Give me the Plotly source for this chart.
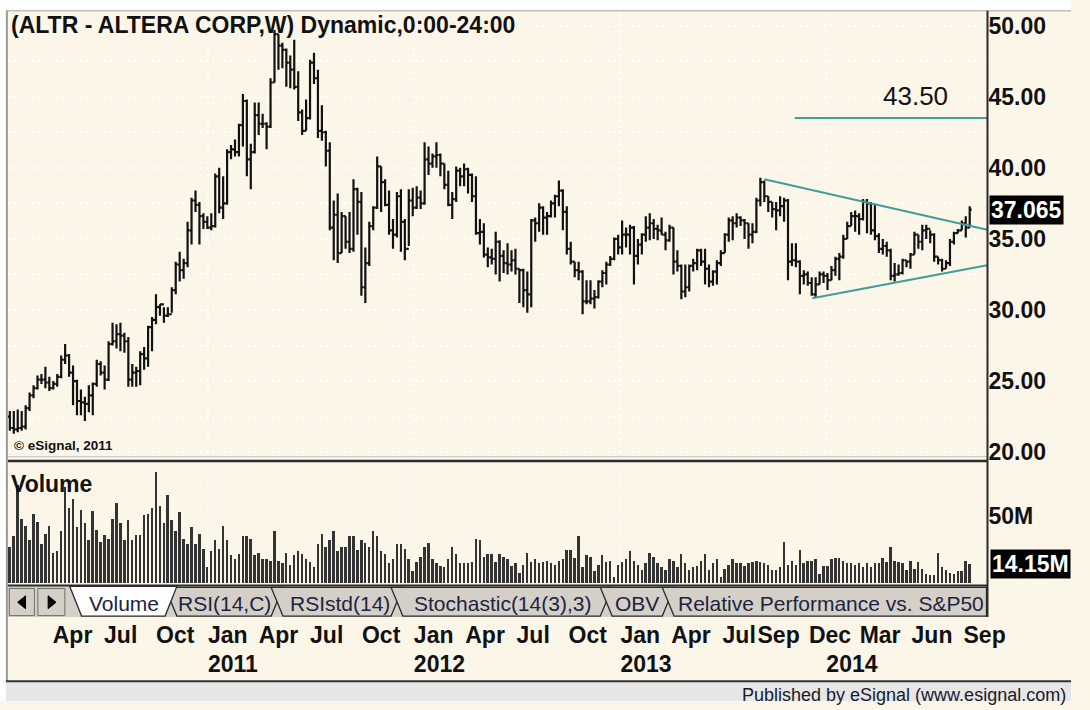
import plotly.graph_objects as go
import pandas as pd

FIG_W, FIG_H = 1090, 710
# the page keeps its default 8px body margin until the script runs, so the
# figure starts 16px smaller and is then fitted to the browser viewport width
START_W, START_H = FIG_W - 16, FIG_H - 16

# ------------------------------------------------------------------ data
first_week = "2010-01-15"
n_weeks = 244

week_open = [
    22.5, 21.7, 21.6, 21.7, 21.8, 23.1, 24.0, 24.5, 25.1, 25.1,
    24.9, 24.5, 24.8, 25.3, 26.5, 26.8, 25.6, 25.0, 23.6, 23.5,
    23.4, 24.0, 24.8, 26.2, 25.6, 25.1, 27.6, 27.8, 28.3, 28.2,
    27.8, 25.1, 25.6, 25.7, 26.9, 26.6, 28.8, 29.3, 30.2, 30.4,
    29.6, 29.7, 31.4, 33.2, 32.8, 33.3, 35.6, 37.7, 37.4, 36.6,
    36.2, 35.8, 35.9, 39.4, 37.2, 37.5, 41.1, 41.3, 41.1, 43.0,
    44.7, 40.6, 41.1, 43.7, 43.1, 43.1, 42.9, 46.0, 49.4, 48.6,
    48.3, 47.4, 46.9, 45.7, 43.9, 42.6, 43.5, 47.4, 46.3, 42.6,
    42.5, 41.2, 35.8, 36.7, 34.0, 36.6, 34.8, 34.3, 38.5, 37.6,
    31.6, 33.3, 35.9, 37.2, 40.1, 39.0, 37.4, 35.6, 35.3, 38.0,
    36.2, 34.3, 37.7, 37.2, 37.9, 37.5, 40.6, 40.3, 40.8, 40.9,
    40.3, 38.8, 37.4, 37.8, 39.8, 39.4, 39.9, 39.5, 38.0, 35.4,
    35.5, 33.9, 33.7, 33.6, 34.8, 33.8, 33.3, 33.2, 33.5, 32.9,
    32.8, 31.4, 31.1, 36.3, 36.1, 37.2, 36.5, 36.6, 37.5, 38.0,
    38.4, 36.9, 34.3, 33.4, 32.8, 32.7, 30.6, 30.6, 30.8, 30.9,
    32.0, 32.6, 33.2, 33.6, 35.0, 34.4, 35.3, 35.3, 35.8, 33.8,
    34.6, 35.3, 35.8, 36.1, 35.7, 35.6, 35.3, 34.9, 35.8, 33.4,
    33.1, 31.3, 31.6, 33.1, 33.3, 34.2, 33.4, 32.9, 32.0, 32.7,
    33.3, 34.0, 35.3, 36.3, 36.1, 36.5, 36.3, 36.1, 35.3, 35.5,
    37.7, 39.0, 38.0, 37.6, 37.1, 37.0, 37.3, 37.7, 33.4, 33.5,
    33.4, 32.4, 32.5, 31.9, 31.1, 31.8, 32.5, 32.4, 32.1, 32.8,
    33.6, 33.75, 35.0, 35.9, 36.6, 36.6, 36.4, 37.6, 37.5, 35.6,
    35.2, 34.3, 34.5, 34.2, 32.4, 32.5, 32.6, 33.5, 33.4, 33.9,
    35.3, 34.8, 35.6, 35.7, 35.3, 33.75, 33.5, 32.9, 33.3, 34.8,
    35.4, 35.6, 36.1, 35.8,
]
week_high = [
    22.9, 22.9, 23.0, 22.9, 23.3, 24.2, 24.7, 25.4, 25.5, 26.0,
    25.3, 25.0, 25.5, 26.8, 27.6, 26.9, 26.1, 25.1, 24.4, 23.9,
    24.7, 24.9, 26.5, 26.4, 26.1, 27.8, 29.1, 29.0, 29.1, 28.4,
    28.1, 26.2, 26.0, 27.1, 27.4, 28.9, 29.5, 31.1, 30.4, 30.2,
    30.2, 31.6, 33.4, 34.1, 33.6, 36.2, 37.9, 38.4, 37.6, 36.8,
    36.6, 36.8, 39.6, 40.0, 39.4, 41.3, 41.6, 42.0, 43.1, 45.2,
    44.8, 41.7, 44.6, 44.6, 43.8, 43.2, 46.3, 49.7, 49.4, 48.8,
    48.4, 47.9, 49.0, 46.8, 44.1, 44.8, 47.6, 48.1, 46.9, 44.4,
    42.6, 41.8, 37.7, 38.2, 36.9, 36.6, 36.9, 39.2, 38.6, 38.3,
    34.4, 36.2, 37.3, 40.8, 40.1, 39.2, 38.4, 36.4, 38.3, 38.5,
    36.4, 38.5, 38.6, 38.7, 38.4, 41.8, 41.5, 41.0, 41.8, 41.0,
    40.3, 39.8, 38.3, 40.1, 40.0, 40.3, 40.0, 39.6, 39.4, 36.4,
    36.1, 34.4, 34.3, 35.5, 34.9, 34.2, 34.7, 34.2, 34.3, 32.9,
    32.9, 32.7, 36.4, 36.5, 37.5, 37.3, 36.9, 37.7, 38.1, 39.1,
    38.5, 37.3, 34.8, 33.4, 33.4, 32.8, 32.1, 32.1, 31.4, 32.1,
    32.8, 33.4, 33.8, 35.1, 35.3, 36.3, 35.8, 36.0, 35.9, 35.0,
    35.4, 36.6, 36.8, 36.4, 36.0, 36.5, 35.5, 36.0, 35.8, 34.2,
    33.2, 33.2, 33.2, 33.6, 34.3, 34.3, 34.3, 33.2, 32.8, 33.5,
    34.2, 35.4, 36.5, 36.6, 36.8, 36.6, 36.4, 36.1, 36.1, 37.9,
    39.3, 39.1, 38.0, 37.6, 37.6, 38.0, 37.9, 37.8, 34.7, 34.7,
    33.5, 32.8, 32.7, 32.3, 32.3, 32.7, 32.7, 32.6, 33.1, 33.75,
    34.0, 35.3, 36.2, 36.9, 37.0, 36.8, 37.8, 37.8, 37.6, 37.4,
    35.4, 35.0, 34.8, 34.3, 33.3, 33.2, 33.6, 33.5, 34.0, 35.5,
    35.3, 36.0, 36.0, 35.6, 35.4, 33.75, 33.6, 33.5, 35.0, 35.5,
    35.7, 36.3, 36.6, 37.3,
]
week_low = [
    21.5, 21.3, 21.4, 21.5, 21.6, 22.9, 23.8, 24.4, 24.8, 24.5,
    24.3, 24.4, 24.6, 25.2, 26.2, 25.3, 23.3, 22.6, 22.6, 22.2,
    22.8, 22.6, 24.6, 25.4, 24.4, 25.0, 27.5, 27.3, 27.1, 27.0,
    24.6, 24.6, 24.6, 24.7, 25.8, 26.0, 27.1, 29.0, 29.6, 29.1,
    29.5, 29.8, 31.1, 32.0, 32.2, 33.0, 34.6, 36.9, 34.6, 35.7,
    35.7, 35.6, 35.8, 36.8, 36.4, 37.4, 40.6, 40.8, 40.8, 41.5,
    39.4, 38.5, 41.0, 42.3, 42.8, 41.3, 42.8, 46.0, 46.9, 47.0,
    45.7, 45.6, 45.5, 43.3, 42.3, 42.6, 43.4, 45.9, 42.1, 41.9,
    40.1, 35.6, 33.5, 33.3, 34.0, 34.3, 34.0, 34.1, 35.3, 31.0,
    30.5, 33.1, 35.6, 37.1, 36.9, 37.3, 35.3, 34.3, 35.1, 34.1,
    33.5, 34.5, 36.6, 37.1, 37.1, 37.4, 39.5, 40.0, 40.0, 39.4,
    38.5, 37.3, 36.4, 37.6, 38.7, 38.7, 38.2, 37.6, 35.3, 34.6,
    33.7, 33.0, 33.2, 32.5, 32.0, 32.6, 32.5, 32.7, 32.5, 30.5,
    30.2, 29.8, 30.2, 34.8, 35.5, 35.3, 35.3, 36.5, 36.5, 37.3,
    35.6, 33.9, 33.2, 32.3, 32.1, 29.7, 30.4, 30.4, 30.1, 30.8,
    31.6, 31.8, 33.1, 33.5, 33.9, 33.9, 34.4, 33.9, 31.8, 33.2,
    33.9, 34.8, 34.9, 35.0, 34.9, 35.3, 34.2, 34.8, 32.5, 32.7,
    30.75, 30.9, 31.3, 32.7, 32.8, 33.1, 31.8, 31.6, 31.7, 31.8,
    33.1, 34.0, 34.8, 34.9, 35.8, 35.9, 35.0, 34.3, 34.7, 35.4,
    37.3, 37.6, 36.9, 36.5, 35.6, 36.6, 36.2, 32.1, 33.1, 33.0,
    31.1, 31.8, 31.7, 31.0, 30.9, 31.8, 31.9, 31.4, 32.1, 32.4,
    32.1, 33.6, 35.0, 35.9, 35.5, 35.3, 36.3, 35.4, 35.3, 34.9,
    34.0, 33.9, 33.75, 32.1, 32.0, 32.4, 32.5, 33.0, 32.9, 33.9,
    34.3, 34.2, 35.0, 34.7, 33.4, 33.2, 32.7, 32.9, 33.1, 34.6,
    35.4, 35.6, 35.1, 35.8,
]
week_close = [
    21.7, 21.6, 21.7, 21.8, 23.1, 24.0, 24.5, 25.1, 25.1, 24.9,
    24.5, 24.8, 25.3, 26.5, 26.8, 25.6, 25.0, 23.6, 23.5, 23.4,
    24.0, 24.8, 26.2, 25.6, 25.1, 27.6, 27.8, 28.3, 28.2, 27.8,
    25.1, 25.6, 25.7, 26.9, 26.6, 28.8, 29.3, 30.2, 30.4, 29.6,
    29.7, 31.4, 33.2, 32.8, 33.3, 35.6, 37.7, 37.4, 36.6, 36.2,
    35.8, 35.9, 39.4, 37.2, 37.5, 41.1, 41.3, 41.1, 43.0, 44.7,
    40.6, 41.1, 43.7, 43.1, 43.1, 42.9, 46.0, 49.4, 48.6, 48.3,
    47.4, 46.9, 45.7, 43.9, 42.6, 43.5, 47.4, 46.3, 42.6, 42.5,
    41.2, 35.8, 36.7, 34.0, 36.6, 34.8, 34.3, 38.5, 37.6, 31.6,
    33.3, 35.9, 37.2, 40.1, 39.0, 37.4, 35.6, 35.3, 38.0, 36.2,
    34.3, 37.7, 37.2, 37.9, 37.5, 40.6, 40.3, 40.8, 40.9, 40.3,
    38.8, 37.4, 37.8, 39.8, 39.4, 39.9, 39.5, 38.0, 35.4, 35.5,
    33.9, 33.7, 33.6, 34.8, 33.8, 33.3, 33.2, 33.5, 32.9, 32.8,
    31.4, 31.1, 36.3, 36.1, 37.2, 36.5, 36.6, 37.5, 38.0, 38.4,
    36.9, 34.3, 33.4, 32.8, 32.7, 30.6, 30.6, 30.8, 30.9, 32.0,
    32.6, 33.2, 33.6, 35.0, 34.4, 35.3, 35.3, 35.8, 33.8, 34.6,
    35.3, 35.8, 36.1, 35.7, 35.6, 35.3, 34.9, 35.8, 33.4, 33.1,
    31.3, 31.6, 33.1, 33.3, 34.2, 33.4, 32.9, 32.0, 32.7, 33.3,
    34.0, 35.3, 36.3, 36.1, 36.5, 36.3, 36.1, 35.3, 35.5, 37.7,
    39.0, 38.0, 37.6, 37.1, 37.0, 37.3, 37.7, 33.4, 33.5, 33.4,
    32.4, 32.5, 31.9, 31.1, 31.8, 32.5, 32.4, 32.1, 32.8, 33.6,
    33.75, 35.0, 35.9, 36.6, 36.6, 36.4, 37.6, 37.5, 35.6, 35.2,
    34.3, 34.5, 34.2, 32.4, 32.5, 32.6, 33.5, 33.4, 33.9, 35.3,
    34.8, 35.6, 35.7, 35.3, 33.75, 33.5, 32.9, 33.3, 34.8, 35.4,
    35.6, 36.1, 35.8, 37.065,
]
week_volume_m = [
    27, 35, 73, 48, 43, 32, 52, 46, 29, 37,
    43, 23, 24, 39, 72, 56, 63, 42, 55, 45,
    32, 54, 40, 31, 36, 33, 48, 60, 45, 32,
    47, 32, 36, 36, 51, 52, 56, 83, 58, 45,
    66, 47, 39, 53, 33, 29, 42, 29, 37, 26,
    12, 24, 32, 26, 43, 32, 21, 18, 22, 35,
    35, 33, 21, 23, 18, 18, 17, 39, 17, 15,
    23, 14, 21, 24, 22, 18, 16, 12, 29, 37,
    27, 32, 39, 24, 27, 27, 35, 35, 25, 32,
    30, 27, 39, 35, 24, 22, 15, 18, 29, 29,
    26, 18, 9, 16, 20, 27, 30, 18, 15, 13,
    12, 18, 27, 22, 15, 15, 15, 16, 33, 32,
    20, 22, 22, 16, 22, 20, 18, 13, 15, 8,
    14, 23, 16, 18, 15, 16, 17, 15, 14, 17,
    18, 25, 25, 19, 35, 12, 21, 20, 9, 14,
    21, 16, 17, 5, 14, 16, 18, 24, 17, 14,
    10, 15, 23, 20, 15, 12, 10, 18, 17, 12,
    22, 15, 10, 12, 13, 17, 22, 10, 15, 18,
    5, 11, 14, 18, 15, 15, 13, 15, 16, 17,
    16, 15, 14, 10, 10, 12, 31, 14, 17, 14,
    25, 15, 17, 17, 18, 7, 13, 13, 18, 19,
    19, 17, 15, 15, 14, 15, 12, 15, 12, 15,
    15, 19, 16, 27, 17, 16, 15, 10, 17, 11,
    16, 11, 7, 6, 6, 23, 12, 10, 8, 7,
    9, 9, 17, 14.15,
]

last_price = 37.065
last_volume_m = 14.15
price_ticks = [20, 25, 30, 35, 40, 45, 50]
volume_ticks = [50]
volume_tick_text = ["50M"]
month_tick_dates = [
    "2010-04-01", "2010-07-01", "2010-10-01", "2011-01-01", "2011-04-01",
    "2011-07-01", "2011-10-01", "2012-01-01", "2012-04-01", "2012-07-01",
    "2012-10-01", "2013-01-01", "2013-04-01", "2013-07-01", "2013-09-01",
    "2013-12-01", "2014-01-01", "2014-03-01", "2014-06-01", "2014-09-01",
]
month_tick_text = [
    "Apr", "Jul", "Oct", "Jan<br>2011", "Apr",
    "Jul", "Oct", "Jan<br>2012", "Apr", "Jul",
    "Oct", "Jan<br>2013", "Apr", "Jul", "Sep",
    "Dec", " <br>2014", "Mar", "Jun", "Sep",
]
year_grid_dates = ["2011-01-01", "2012-01-01", "2013-01-01", "2014-01-01"]
x_range = ["2010-01-11 12:00", "2014-10-13 12:00"]
price_range = [19.72, 50.97]
volume_range = [0, 90.4]

resistance_level = 43.50
resistance_dates = ["2013-11-06", "2014-10-13"]
upper_trend_dates = ["2013-09-13", "2014-10-13"]
upper_trend_prices = [39.2, 35.65]
lower_trend_dates = ["2013-12-07", "2014-10-13"]
lower_trend_prices = [30.83, 33.15]

title_text = "(ALTR - ALTERA CORP,W) Dynamic,0:00-24:00"
tab_labels = ["Volume", "RSI(14,C)", "RSIstd(14)", "Stochastic(14(3),3)",
              "OBV", "Relative Performance vs. S&P50"]

# ------------------------------------------------------------------ styling
CREAM = "#FCF6E9"
INK = "#111111"
TEAL = "#3E9F9A"
TAB_GRAY = "#D4D0C8"
FONT = "Liberation Sans, Arial, sans-serif"
LABEL_STANDOFF = 35


def px_x(p):
    return p / FIG_W


def px_y(p):
    return 1 - p / FIG_H


weeks = pd.date_range(first_week, periods=n_weeks, freq="7D")

fig = go.Figure()

fig.add_trace(go.Ohlc(
    x=weeks, open=week_open, high=week_high, low=week_low, close=week_close,
    xaxis="x", yaxis="y",
    increasing=dict(line=dict(color=INK, width=2.2)),
    decreasing=dict(line=dict(color=INK, width=2.2)),
    tickwidth=0.5, showlegend=False, hoverinfo="skip",
))

fig.add_trace(go.Bar(
    x=weeks, y=week_volume_m, xaxis="x2", yaxis="y2",
    width=3.5 * 86400000, marker=dict(color="#333333", line=dict(width=0)),
    showlegend=False, hoverinfo="skip",
))

line_style = dict(color=TEAL, width=2)
fig.add_trace(go.Scatter(x=upper_trend_dates, y=upper_trend_prices, mode="lines",
                         line=line_style, xaxis="x", yaxis="y",
                         showlegend=False, hoverinfo="skip"))
fig.add_trace(go.Scatter(x=lower_trend_dates, y=lower_trend_prices, mode="lines",
                         line=line_style, xaxis="x", yaxis="y",
                         showlegend=False, hoverinfo="skip"))
fig.add_trace(go.Scatter(x=resistance_dates, y=[resistance_level] * 2, mode="lines",
                         line=line_style, xaxis="x", yaxis="y",
                         showlegend=False, hoverinfo="skip"))

tick_font = dict(family=FONT, size=23, color=INK, weight="bold")
dot = "2px,4px"

fig.update_layout(
    width=START_W, height=START_H, autosize=False,
    margin=dict(l=0, r=0, t=0, b=0, pad=0),
    paper_bgcolor=CREAM, plot_bgcolor=CREAM,
    showlegend=False, bargap=0,
    xaxis=dict(
        domain=[px_x(8), px_x(1005)], range=x_range, type="date", anchor="y",
        showticklabels=False, ticks="", tickmode="array", tickvals=year_grid_dates,
        showgrid=True, gridcolor="white", gridwidth=1.5, griddash=dot,
        zeroline=False, showline=False, rangeslider=dict(visible=False),
    ),
    yaxis=dict(
        domain=[px_y(462), px_y(12)], range=price_range, anchor="x", side="right",
        tickmode="array", tickvals=price_ticks,
        ticktext=[f"{v:.2f}" for v in price_ticks], tickfont=tick_font, ticks="",
        showgrid=True, gridcolor="white", gridwidth=1.5, griddash=dot,
        minor=dict(tickmode="linear", tick0=0, dtick=2.5, showgrid=True,
                   gridcolor="white", gridwidth=1.5, griddash=dot),
        zeroline=False, showline=False,
    ),
    xaxis2=dict(
        domain=[px_x(8), px_x(1005)], range=x_range, type="date", anchor="y2",
        tickmode="array", tickvals=month_tick_dates, ticktext=month_tick_text,
        ticklabelposition="outside right", ticklabelstandoff=LABEL_STANDOFF,
        tickangle=0, ticklabeloverflow="allow", tickfont=tick_font, ticks="",
        showgrid=False, zeroline=False, showline=False,
    ),
    yaxis2=dict(
        domain=[px_y(591), px_y(468)], range=volume_range, anchor="x2", side="right",
        tickmode="array", tickvals=volume_ticks, ticktext=volume_tick_text,
        tickfont=tick_font, ticks="", showgrid=False, zeroline=False, showline=False,
    ),
)

shapes = []


def rect(x0, y0, x1, y1, fill, line_color=None, lw=0):
    shapes.append(dict(type="rect", xref="paper", yref="paper",
                       x0=px_x(x0), x1=px_x(x1), y0=px_y(y0), y1=px_y(y1),
                       fillcolor=fill, line=dict(color=line_color or fill, width=lw),
                       layer="above"))


def hline(x0, x1, y, color, w):
    shapes.append(dict(type="line", xref="paper", yref="paper",
                       x0=px_x(x0), x1=px_x(x1), y0=px_y(y), y1=px_y(y),
                       line=dict(color=color, width=w), layer="above"))


def vline(x, y0, y1, color, w):
    shapes.append(dict(type="line", xref="paper", yref="paper",
                       x0=px_x(x), x1=px_x(x), y0=px_y(y0), y1=px_y(y1),
                       line=dict(color=color, width=w), layer="above"))


def poly(points, fill, line_color, lw):
    path = "M " + " L ".join(f"{px_x(a):.5f},{px_y(b):.5f}" for a, b in points) + " Z"
    shapes.append(dict(type="path", xref="paper", yref="paper", path=path,
                       fillcolor=fill, line=dict(color=line_color, width=lw),
                       layer="above"))


# yearly grid in the volume pane
for d in year_grid_dates:
    shapes.append(dict(type="line", xref="x2", yref="y2 domain", x0=d, x1=d, y0=0, y1=1,
                       line=dict(color="white", width=1.5, dash=dot), layer="below"))

# top strip
rect(0, 0, FIG_W, 10.5, "white")
hline(6, FIG_W, 11, "#BDBDBD", 1.5)
# left white margin
rect(0, 11, 6, FIG_H, "white")
# pane separator
hline(8, 1005, 462.5, "#C4C4C4", 1)
hline(8, 1005, 467, "#2B2B2B", 2.5)
# tab strip
rect(8, 593, 1005, 625, TAB_GRAY)
hline(8, 1005, 593, "#2B2B2B", 2)
rect(9.5, 596, 35, 623.5, TAB_GRAY, "#6E6E6E", 1)
rect(38.5, 596, 66, 623.5, TAB_GRAY, "#6E6E6E", 1)
poly([(26, 603.5), (18, 610), (26, 616.5)], "#000000", "#000000", 1)
poly([(49, 603.5), (57, 610), (49, 616.5)], "#000000", "#000000", 1)
tab_edges = [(168, 288), (276, 410), (398, 623), (611, 686)]
for a, b in tab_edges:
    poly([(a, 595), (a + 12, 624), (b - 12, 624), (b, 595)], TAB_GRAY, "#2B2B2B", 1.3)
poly([(674, 595), (686, 624), (1004, 624), (1004, 595)], TAB_GRAY, "#2B2B2B", 1.3)
poly([(71, 594), (83, 624), (168, 624), (180, 594)], "white", "#2B2B2B", 1.3)
# frame lines
vline(7, 11, 690, "#9A9A9A", 2)
vline(1005, 11, 625, "#2B2B2B", 2)
# footer
rect(6, 690, FIG_W, FIG_H, "#E6E6E6")
hline(6, FIG_W, 690, "#333333", 2)

fig.update_layout(shapes=shapes)

ann = []


def text(x, y, s, size, bold=True, color=INK, xanchor="left", yanchor="middle",
         yref="paper", bg=None):
    ann.append(dict(x=px_x(x), y=(px_y(y) if yref == "paper" else y), xref="paper",
                    yref=yref, text=s, showarrow=False, xanchor=xanchor,
                    yanchor=yanchor, bgcolor=bg, borderpad=1,
                    font=dict(family=FONT, size=size, color=color,
                              weight="bold" if bold else "normal")))


text(9, 25, title_text, 23)
text(932, 97, f"{resistance_level:.2f}", 26, bold=False, xanchor="center")
text(12, 451, "© eSignal, 2011", 13.5)
text(9, 490, "Volume", 23)
text(1007, last_price, f"{last_price:.3f}", 23, color="white", yref="y", bg="#000000")
text(1008, last_volume_m, f"{last_volume_m:.2f}M", 23, color="white", yref="y2",
     bg="#000000")
tab_centers = [126, 228, 346, 511, 648, 846]
for cx, lab in zip(tab_centers, tab_labels):
    text(cx, 611, lab, 21, bold=False, color="#1D2340", xanchor="center")
text(1087, 692, "Published by eSignal (www.esignal.com)", 18, bold=False,
     color="#1A1A2A", xanchor="right", yanchor="top")

fig.update_layout(annotations=ann)

# fit the figure to the browser viewport width (keeping 1090x710 proportions)
page_fix = (
    "document.documentElement.style.margin='0';"
    "document.body.style.margin='0';"
    "document.documentElement.style.overflow='hidden';"
    "document.body.style.overflow='hidden';"
    "var gd=document.getElementById('{plot_id}');"
    "var vw=Math.max(window.innerWidth||0,document.documentElement.clientWidth||0);"
    "var k=vw/%d;if(!(k>0.8&&k<1.25)){k=1;}"
    "var W=Math.round(%d*k),H=Math.round(%d*k);"
    "gd.style.width=W+'px';gd.style.height=H+'px';"
    "var upd={width:W,height:H,'xaxis2.ticklabelstandoff':%d*k};"
    "(gd.layout.annotations||[]).forEach(function(a,i){"
    "upd['annotations['+i+'].font.size']=a.font.size*k;});"
    "['yaxis','yaxis2','xaxis2'].forEach(function(n){"
    "upd[n+'.tickfont.size']=gd.layout[n].tickfont.size*k;});"
    "Plotly.relayout(gd,upd);"
) % (FIG_W, FIG_W, FIG_H, LABEL_STANDOFF)

fig.write_html("out.html", config={"displayModeBar": False, "responsive": False},
               post_script=page_fix)
